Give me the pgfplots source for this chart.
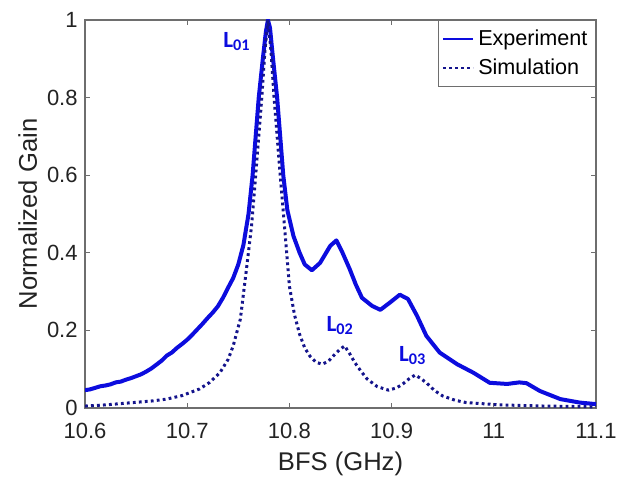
\documentclass[border=0pt]{standalone}
\usepackage{fontspec}
\setmainfont{Liberation Sans}
\newfontfamily\calibri{Carlito}
\usepackage{pgfplots}
\pgfplotsset{compat=1.18}

\definecolor{expblue}{RGB}{12,12,222}
\definecolor{simnavy}{RGB}{20,20,140}
\definecolor{axgray}{RGB}{110,110,110}
\definecolor{txtgray}{RGB}{35,35,35}

\begin{document}
\begin{tikzpicture}
\begin{axis}[
    name=ax,
    scale only axis,
    width=255.5pt,
    height=194pt,
    xmin=10.6, xmax=11.1,
    ymin=0, ymax=1,
    xtick={10.6,10.7,10.8,10.9,11,11.1},
    xticklabels={10.6,10.7,10.8,10.9,11,11.1},
    ytick={0,0.2,0.4,0.6,0.8,1},
    yticklabels={0,0.2,0.4,0.6,0.8,1},
    tick align=inside,
    major tick length=2.5pt,
    tick style={axgray, line width=0.5pt},
    axis line style={axgray, line width=0.6pt},
    tick label style={font=\fontsize{11}{13}\selectfont, text=txtgray},
    xticklabel style={inner sep=0pt, anchor=north, yshift=-7.5pt},
    yticklabel style={inner sep=0pt, anchor=east, xshift=-3.5pt},
    xlabel={BFS (GHz)},
    ylabel={Normalized Gain},
    label style={font=\fontsize{12.8}{15}\selectfont, text=txtgray},
    xlabel style={at={(axis description cs:0.5,-0.162)}, anchor=base, inner sep=0pt},
    ylabel style={at={(axis description cs:-0.094,0.5)}, anchor=base, inner sep=0pt},
    legend style={at={(1,1)}, anchor=north east, draw=axgray, line width=0.5pt,
        font=\fontsize{10.8}{13}\selectfont, text=black, inner xsep=2pt, inner ysep=2.5pt,
        row sep=1.5pt},
    legend cell align=left,
    legend image code/.code={\draw[#1, line width=1pt] (0pt,0pt) -- (15pt,0pt);},
]
\addplot[expblue, line width=2pt, line join=round] coordinates {
(10.600,0.046) (10.605,0.048) (10.610,0.052) (10.615,0.056) (10.620,0.058)
(10.625,0.061) (10.630,0.066) (10.635,0.068) (10.640,0.073) (10.645,0.077)
(10.650,0.082) (10.655,0.087) (10.660,0.094) (10.665,0.102) (10.670,0.112)
(10.675,0.122) (10.680,0.135) (10.685,0.143) (10.690,0.155) (10.695,0.165)
(10.700,0.176) (10.705,0.189) (10.710,0.203) (10.715,0.217) (10.720,0.232)
(10.725,0.246) (10.730,0.262) (10.735,0.284) (10.740,0.310) (10.745,0.335)
(10.750,0.370) (10.755,0.420) (10.760,0.500) (10.764,0.600) (10.767,0.700)
(10.770,0.800) (10.774,0.900) (10.777,0.970) (10.779,1.000) (10.781,0.980)
(10.784,0.900) (10.788,0.800) (10.791,0.700) (10.794,0.600) (10.798,0.510)
(10.804,0.443) (10.810,0.400) (10.815,0.370) (10.822,0.355) (10.830,0.374)
(10.840,0.418) (10.846,0.432) (10.852,0.400) (10.859,0.358) (10.865,0.318)
(10.871,0.284) (10.881,0.263) (10.889,0.253) (10.898,0.271) (10.908,0.292)
(10.916,0.281) (10.925,0.237) (10.934,0.186) (10.947,0.143) (10.964,0.113)
(10.980,0.091) (10.996,0.065) (11.013,0.062) (11.025,0.066) (11.032,0.064)
(11.045,0.044) (11.065,0.023) (11.084,0.014) (11.100,0.010)
};
\addlegendentry{Experiment}
\addplot[simnavy, line width=1.5pt, dash pattern=on 1.4pt off 1.6pt] coordinates {
(10.600,0.005) (10.620,0.008) (10.647,0.014) (10.665,0.018) (10.680,0.023)
(10.695,0.032) (10.712,0.049) (10.722,0.066) (10.732,0.091) (10.740,0.125)
(10.745,0.160) (10.752,0.229) (10.758,0.358) (10.763,0.470) (10.767,0.600)
(10.770,0.700) (10.773,0.800) (10.776,0.920) (10.779,1.000) (10.782,0.920)
(10.785,0.800) (10.788,0.700) (10.791,0.600) (10.796,0.443) (10.800,0.314)
(10.805,0.240) (10.810,0.190) (10.815,0.155) (10.820,0.134) (10.826,0.118)
(10.832,0.113) (10.838,0.120) (10.843,0.134) (10.849,0.150) (10.854,0.160)
(10.859,0.140) (10.864,0.117) (10.870,0.095) (10.876,0.075) (10.886,0.055)
(10.897,0.046) (10.905,0.052) (10.911,0.062) (10.917,0.075) (10.923,0.085)
(10.928,0.077) (10.934,0.065) (10.942,0.045) (10.950,0.031) (10.962,0.020)
(10.973,0.014) (11.006,0.008) (11.050,0.005) (11.100,0.003)
};
\addlegendentry{Simulation}
\node[anchor=base west, inner sep=0pt, text=expblue, font=\calibri\bfseries\fontsize{11.6}{13}\selectfont]
    at (axis cs:10.735,0.930) {L\textsubscript{01}};
\node[anchor=base west, inner sep=0pt, text=expblue, font=\calibri\bfseries\fontsize{11.6}{13}\selectfont]
    at (axis cs:10.836,0.198) {L\textsubscript{02}};
\node[anchor=base west, inner sep=0pt, text=expblue, font=\calibri\bfseries\fontsize{11.6}{13}\selectfont]
    at (axis cs:10.907,0.121) {L\textsubscript{03}};
\end{axis}
\pgfresetboundingbox
\path[use as bounding box] ([shift={(-42.5pt,-34pt)}]ax.south west) rectangle ([shift={(16.5pt,10pt)}]ax.north east);
\end{tikzpicture}
\end{document}
